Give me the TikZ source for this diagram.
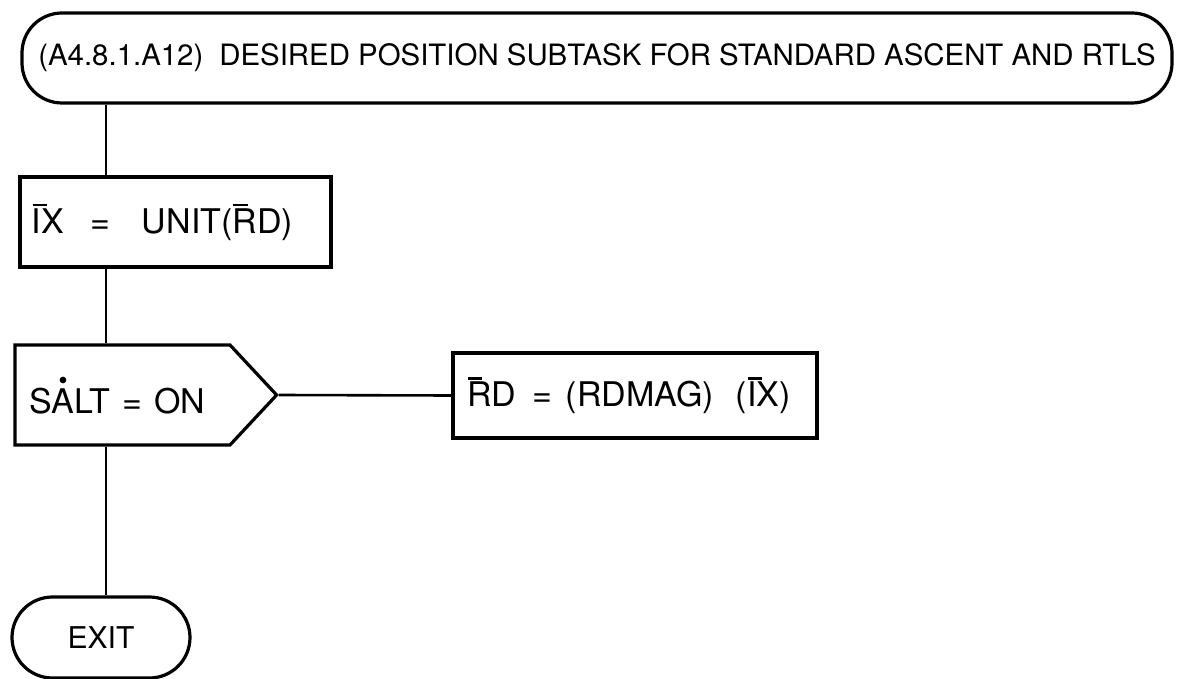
\documentclass[tikz,border=0pt]{standalone}
\usepackage{fontspec}
\setmainfont{TeX Gyre Heros}
\usetikzlibrary{shapes.symbols, shapes.misc}
% vector bar over a single letter
\newcommand{\vecb}[1]{\leavevmode\rlap{\hspace{0.02em}\raisebox{0.8em}{\rule{0.42em}{0.075em}}}#1}
% time derivative dot
\newcommand{\tdot}[1]{$\stackrel{\scriptscriptstyle\bullet}{\mbox{#1}}$}

\begin{document}
\begin{tikzpicture}[x=0.5pt, y=-0.5pt,
    box/.style={draw, line width=1.6pt, rectangle, inner sep=0pt},
    term/.style={draw, line width=1.6pt, rounded rectangle, inner sep=0pt},
    link/.style={line width=1.3pt},
    txt/.style={font=\fontsize{17}{20}\selectfont}]

  \useasboundingbox (0,0) rectangle (1177,679);

  % --- entry ---
  \node[draw, line width=1.6pt, rectangle, rounded corners=20pt,
        minimum width=575pt, minimum height=45pt, font=\fontsize{14.7}{17}\selectfont]
    (title) at (597,58)
    {(A4.8.1.A12)\hspace{8pt}DESIRED POSITION SUBTASK FOR STANDARD ASCENT AND RTLS};

  % --- unit vector ---
  \node[box, txt, minimum width=155.5pt, minimum height=45pt, inner xsep=6pt,
        text width=143.5pt, align=left]
    (ix) at (175.5,222) {\vecb{I}X\hspace{13pt}=\hspace{16pt}UNIT(\vecb{R}D)};

  % --- test ---
  \node[draw, line width=1.6pt, signal, signal to=east, signal pointer angle=94,
        minimum width=0pt, minimum height=50pt, inner xsep=7pt, inner ysep=0pt,
        text width=93.5pt, align=left, txt]
    (salt) at (122.5,395) {S\tdot{A}LT\hspace{6pt}=\hspace{6pt}ON};

  \node[box, txt, minimum width=182pt, minimum height=42.5pt, inner xsep=7pt,
        text width=168pt, align=left]
    (rd) at (635,395.5) {\vecb{R}D\hspace{8pt}=\hspace{7pt}(RDMAG)\hspace{11pt}(\vecb{I}X)};

  % --- exit ---
  \node[term, minimum width=89pt, minimum height=40.5pt,
        font=\fontsize{15}{17}\selectfont]
    (exit) at (101,637.5) {EXIT};

  % --- flow ---
  \coordinate (spine) at (106,0);
  \draw[link] (title.south -| spine) -- (ix.north -| spine);
  \draw[link] (ix.south -| spine) -- (salt.north -| spine);
  \draw[link] (salt.south -| spine) -- (exit.north -| spine);
  \draw[link] (salt.east) -- (rd.west);

\end{tikzpicture}
\end{document}
